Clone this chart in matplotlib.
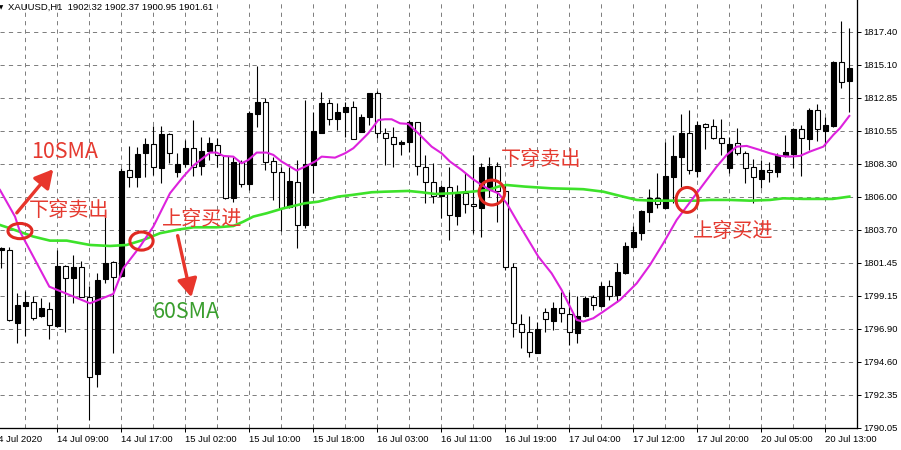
import matplotlib
matplotlib.use('Agg')
import matplotlib.pyplot as plt
import matplotlib.transforms as mtransforms
from matplotlib.patches import Ellipse, FancyArrowPatch
import numpy as np

# ---------------- data ----------------
opens = [1802.33, 1802.33, 1797.31, 1798.48, 1798.76, 1797.79, 1798.23, 1797.10, 1801.22, 1800.42,
         1801.17, 1799.06, 1793.74, 1800.30, 1801.48, 1800.53, 1807.85, 1807.39, 1809.00, 1809.65,
         1808.01, 1810.34, 1807.74, 1808.24, 1809.39, 1808.15, 1809.16, 1809.55, 1808.84, 1805.89,
         1808.43, 1806.86, 1811.69, 1812.52, 1808.50, 1807.69, 1805.32, 1807.04, 1804.05, 1808.20,
         1810.43, 1812.46, 1811.37, 1811.83, 1812.22, 1810.50, 1811.53, 1813.15, 1810.38, 1810.11,
         1809.62, 1809.76, 1811.14, 1808.03, 1807.00, 1806.06, 1806.65, 1804.67, 1806.24, 1805.48,
         1805.25, 1806.47, 1808.13, 1806.42, 1801.13, 1797.22, 1796.64, 1795.24, 1798.07, 1797.45,
         1798.30, 1797.88, 1796.62, 1797.77, 1799.10, 1798.46, 1799.84, 1799.22, 1800.71, 1802.56,
         1803.52, 1804.97, 1805.89, 1805.25, 1807.34, 1808.77, 1810.38, 1807.80, 1811.00, 1810.89,
         1810.04, 1807.97, 1809.74, 1809.00, 1808.03, 1807.25, 1807.85, 1807.69, 1808.82, 1808.96,
         1810.68, 1809.99, 1811.99, 1810.54, 1810.89, 1815.29, 1814.02]
highs = [1802.56, 1802.51, 1799.33, 1799.52, 1799.15, 1798.99, 1798.71, 1802.33, 1801.29, 1801.98,
         1801.59, 1799.84, 1800.76, 1804.97, 1801.59, 1807.97, 1809.51, 1809.46, 1810.04, 1810.89,
         1810.89, 1810.38, 1809.00, 1809.92, 1811.30, 1810.15, 1810.11, 1810.04, 1808.89, 1808.77,
         1808.54, 1811.95, 1815.03, 1812.80, 1808.77, 1808.08, 1808.08, 1808.54, 1812.69, 1811.83,
         1813.26, 1812.73, 1812.46, 1812.57, 1812.62, 1811.69, 1813.19, 1813.33, 1810.73, 1810.80,
         1809.92, 1811.30, 1811.19, 1808.89, 1808.31, 1806.81, 1808.03, 1806.81, 1807.62, 1808.89,
         1808.31, 1808.77, 1808.43, 1806.81, 1801.41, 1797.91, 1797.77, 1797.38, 1798.30, 1798.76,
         1799.45, 1799.45, 1799.15, 1799.15, 1799.22, 1800.14, 1800.25, 1801.41, 1802.90, 1803.98,
         1805.09, 1806.52, 1807.62, 1809.81, 1810.27, 1811.69, 1811.99, 1811.23, 1811.12, 1811.37,
         1811.37, 1810.15, 1810.73, 1809.19, 1808.59, 1808.54, 1808.43, 1809.00, 1810.27, 1810.77,
         1810.96, 1812.11, 1812.41, 1811.49, 1815.40, 1818.14, 1817.63]
lows = [1801.06, 1797.45, 1795.88, 1796.39, 1797.49, 1797.68, 1796.16, 1797.03, 1796.69, 1798.64,
        1799.05, 1790.59, 1792.89, 1800.02, 1795.19, 1800.48, 1806.65, 1806.65, 1807.39, 1807.51,
        1806.93, 1808.36, 1807.39, 1808.08, 1807.44, 1807.51, 1808.54, 1808.08, 1805.85, 1805.66,
        1806.70, 1806.47, 1810.84, 1807.85, 1805.78, 1803.66, 1805.20, 1802.44, 1803.82, 1806.24,
        1810.38, 1810.96, 1810.61, 1810.11, 1809.99, 1810.50, 1810.96, 1810.04, 1808.20, 1808.08,
        1808.89, 1809.12, 1807.51, 1805.55, 1805.55, 1804.51, 1803.02, 1804.05, 1804.86, 1803.48,
        1803.25, 1806.01, 1804.28, 1800.94, 1796.34, 1795.54, 1794.96, 1795.19, 1796.69, 1796.80,
        1797.38, 1795.77, 1795.93, 1797.72, 1798.18, 1798.37, 1798.87, 1798.76, 1800.67, 1802.49,
        1803.02, 1804.28, 1805.25, 1805.20, 1805.55, 1806.70, 1807.57, 1807.39, 1809.28, 1809.99,
        1808.89, 1807.62, 1808.89, 1806.97, 1805.59, 1806.58, 1807.04, 1807.34, 1808.73, 1807.97,
        1807.46, 1809.23, 1809.88, 1809.51, 1810.80, 1813.54, 1811.88]
closes = [1802.44, 1797.49, 1798.53, 1798.71, 1797.65, 1798.30, 1797.15, 1801.22, 1800.37, 1801.17,
          1799.10, 1793.58, 1800.25, 1801.41, 1800.48, 1807.78, 1807.39, 1808.93, 1809.65, 1808.03,
          1810.34, 1809.00, 1808.27, 1809.39, 1808.08, 1809.16, 1809.69, 1808.89, 1805.89, 1808.43,
          1806.86, 1811.76, 1812.57, 1808.43, 1807.69, 1805.20, 1807.09, 1804.05, 1808.27, 1810.54,
          1812.46, 1811.37, 1811.83, 1812.18, 1809.99, 1811.53, 1813.15, 1810.38, 1810.04, 1809.62,
          1809.76, 1811.14, 1808.15, 1807.00, 1806.06, 1806.70, 1804.74, 1806.17, 1805.48, 1805.36,
          1808.08, 1808.13, 1806.42, 1801.13, 1797.26, 1796.64, 1795.30, 1796.85, 1797.54, 1798.30,
          1797.95, 1796.69, 1797.77, 1798.99, 1798.53, 1799.84, 1799.15, 1800.78, 1802.60, 1803.59,
          1805.02, 1805.89, 1805.48, 1807.44, 1808.82, 1810.38, 1807.85, 1810.96, 1810.84, 1810.08,
          1809.69, 1809.65, 1809.00, 1807.97, 1807.34, 1807.85, 1807.69, 1808.89, 1809.07, 1810.68,
          1810.04, 1811.99, 1810.66, 1810.96, 1815.29, 1813.95, 1814.87]

# 10SMA (magenta) and 60SMA (green): bar position, price
sma10_x = [-0.19, 1.69, 2.31, 5.98, 11.06, 12.31, 13.98, 15.23, 17.31, 18.98,
           21.06, 22.73, 23.98, 26.06, 26.9, 27.73, 28.98, 30.02, 30.85, 31.9,
           33.15, 33.98, 35.02, 36.9, 37.94, 39.19, 40.02, 41.69, 42.94, 43.98,
           45.02, 45.85, 47.1, 47.94, 48.77, 49.81, 50.85, 52.1, 53.77, 55.02,
           56.06, 57.52, 58.77, 60.02, 61.06, 62.1, 63.15, 64.6, 67.1, 68.77,
           70.02, 70.85, 71.9, 72.73, 73.98, 75.23, 77.31, 79.4, 81.06, 82.73,
           84.4, 85.65, 86.9, 88.15, 89.4, 90.65, 91.9, 93.15, 94.81, 96.06,
           97.31, 98.56, 99.81, 101.06, 102.73, 103.98, 104.81, 105.98]
sma10_y = [1806.47, 1804.63, 1803.59, 1799.79, 1798.64, 1798.92, 1799.29, 1801.06, 1802.56, 1803.94,
           1806.24, 1807.39, 1808.15, 1809.05, 1809.05, 1808.82, 1808.77, 1808.31, 1808.54, 1809.05,
           1809.05, 1808.89, 1808.43, 1807.81, 1808.08, 1808.43, 1808.77, 1808.70, 1809.00, 1809.35,
           1809.92, 1810.38, 1811.30, 1811.35, 1811.35, 1811.07, 1811.03, 1810.38, 1809.46, 1809.00,
           1808.43, 1807.85, 1807.28, 1806.81, 1806.47, 1806.24, 1805.55, 1804.17, 1801.87, 1800.71,
           1799.56, 1798.64, 1797.49, 1797.38, 1797.61, 1798.07, 1798.87, 1800.02, 1801.29, 1802.79,
           1804.40, 1805.32, 1806.24, 1807.16, 1808.08, 1808.89, 1809.46, 1809.51, 1809.23, 1809.00,
           1808.82, 1808.77, 1808.82, 1809.12, 1809.46, 1810.27, 1810.73, 1811.58]
sma60_x = [-0.19, 1.06, 3.98, 6.06, 8.15, 11.06, 13.56, 15.65, 17.73, 19.81,
           21.9, 23.98, 26.9, 28.98, 30.23, 31.48, 33.15, 35.23, 37.94, 39.6,
           42.1, 43.77, 46.27, 47.94, 50.85, 52.52, 54.19, 56.27, 58.77, 60.85,
           62.1, 63.15, 65.44, 68.77, 71.69, 72.73, 75.23, 77.31, 79.4, 81.48,
           83.56, 86.9, 88.56, 91.06, 93.56, 96.06, 97.73, 100.23, 103.9, 105.98]
sma60_y = [1804.05, 1803.82, 1803.25, 1802.97, 1802.97, 1802.67, 1802.60, 1802.67, 1803.02, 1803.48,
           1803.71, 1803.89, 1803.89, 1803.98, 1804.28, 1804.63, 1804.86, 1805.20, 1805.55, 1805.66,
           1806.01, 1806.12, 1806.31, 1806.35, 1806.40, 1806.31, 1806.19, 1806.24, 1806.35, 1806.47,
           1806.70, 1806.81, 1806.70, 1806.58, 1806.54, 1806.52, 1806.35, 1806.06, 1805.78, 1805.73,
           1805.73, 1805.73, 1805.78, 1805.78, 1805.73, 1805.78, 1805.89, 1805.85, 1805.85, 1806.01]

price_labels = ['1790.05', '1792.35', '1794.60', '1796.90', '1799.15', '1801.45', '1803.70',
                '1806.00', '1808.30', '1810.55', '1812.85', '1815.10', '1817.40']
time_label_bars = [-1, 7, 15, 23, 31, 39, 47, 55, 63, 71, 79, 87, 95, 103]
time_labels = ['14 Jul 2020', '14 Jul 09:00', '14 Jul 17:00', '15 Jul 02:00', '15 Jul 10:00',
               '15 Jul 18:00', '16 Jul 03:00', '16 Jul 11:00', '16 Jul 19:00', '17 Jul 04:00',
               '17 Jul 12:00', '17 Jul 20:00', '20 Jul 05:00', '20 Jul 13:00']
header = 'XAUUSD,H1  1902.32 1902.37 1900.95 1901.61'

# ---------------- figure ----------------
plt.rcParams['font.family'] = ['Liberation Sans', 'DejaVu Sans']
W, H = 901, 450
fig = plt.figure(figsize=(W / 100, H / 100), dpi=100)
fig.patch.set_facecolor('white')
ax = fig.add_axes([0, 22.3 / H, 857 / W, 427.7 / H])

ymin = 1790.05
ymax = 1790.05 + 427.7 / 14.48
ax.set_ylim(ymin, ymax)
ax.set_xlim(-0.1875, 106.94)

o = np.array(opens); h = np.array(highs); l = np.array(lows); c = np.array(closes)
x = np.arange(len(o))
px = 0.72  # one pixel in points

# grid
ytick_pos = np.linspace(1790.05, 1817.40, len(price_labels))
for yv in ytick_pos[1:]:
    ax.axhline(yv, color='#808080', lw=px, ls=(0, (4.2, 4.2)), zorder=1)
for xv in range(3, 107, 4):
    ax.axvline(xv, color='#808080', lw=px, ls=(0, (4.2, 4.2)), zorder=1)

# candles
ax.vlines(x, l, h, color='black', lw=px * 1.1, zorder=3)
bull = c >= o
bottoms = np.minimum(o, c)
heights = np.abs(c - o)
ax.bar(x, heights, width=0.62, bottom=bottoms,
       color=np.where(bull, 'black', 'white'), edgecolor='black', linewidth=px * 1.1, zorder=4)

# moving averages
ax.plot(sma60_x, sma60_y, color='#3de22a', lw=1.9, zorder=5, solid_joinstyle='round')
ax.plot(sma10_x, sma10_y, color='#dd22dd', lw=1.5, zorder=6, solid_joinstyle='round')

# axes styling
for s in ['left', 'top']:
    ax.spines[s].set_visible(False)
for s in ['right', 'bottom']:
    ax.spines[s].set_linewidth(px * 1.3)
    ax.spines[s].set_color('black')
ax.yaxis.tick_right()
ax.set_yticks(ytick_pos)
ax.set_yticklabels(price_labels)
ax.tick_params(axis='y', direction='out', length=3, width=px, pad=1.5, labelsize=6.8, colors='black')
ax.set_xticks([b for b in time_label_bars if b >= 0])
ax.set_xticklabels([])
ax.tick_params(axis='x', direction='out', length=3, width=px)

trans = mtransforms.blended_transform_factory(ax.transData, ax.transAxes)
for b, lab in zip(time_label_bars, time_labels):
    ax.text(b - 0.05, -11.3 / 427.7, lab, transform=trans, ha='left', va='center',
            fontsize=6.8, color='black', clip_on=False)

fig.text(8 / W, 1 - 7.5 / H, header, ha='left', va='center', fontsize=6.8, color='black')
fig.text(-1 / W, 1 - 7.5 / H, '\u25BC', ha='left', va='center', fontsize=4,
         family='DejaVu Sans', color='black')

# annotations
red = '#e53a30'
cjk = ['Noto Sans CJK SC', 'DejaVu Sans']
for (cx, cy, w, hh) in [(2.31, 1803.63, 3.0, 1.05), (17.5, 1802.94, 2.9, 1.25),
                        (61.3, 1806.29, 3.2, 1.72), (85.7, 1805.78, 2.75, 1.72)]:
    ax.add_patch(Ellipse((cx, cy), w, hh, fill=False, edgecolor='#e02a22', lw=2.2, zorder=8))

ax.text(7.9, 1809.09, '10SMA', color=red, fontsize=15.5, family=cjk, ha='center', va='center', zorder=9)
ax.text(8.44, 1805.02, '下穿卖出', color=red, fontsize=14.5, family=cjk, ha='center', va='center', zorder=9)
ax.text(25.06, 1804.46, '上穿买进', color=red, fontsize=14.5, family=cjk, ha='center', va='center', zorder=9)
ax.text(23.06, 1798.04, '60SMA', color='#3a9e2e', fontsize=15.5, family=cjk, ha='center', va='center', zorder=9)
ax.text(67.44, 1808.54, '下穿卖出', color=red, fontsize=14.5, family=cjk, ha='center', va='center', zorder=9)
ax.text(91.44, 1803.63, '上穿买进', color=red, fontsize=14.5, family=cjk, ha='center', va='center', zorder=9)

for (x1, y1, x2, y2) in [(1.69, 1804.74, 6.69, 1808.05), (21.94, 1803.50, 23.81, 1798.87)]:
    ax.add_patch(FancyArrowPatch((x1, y1), (x2, y2),
                                 arrowstyle='-|>,head_length=0.55,head_width=0.3',
                                 mutation_scale=20, color='#e8362c', lw=2.4, zorder=9))

fig.savefig('out.png', dpi=100, facecolor='white')
